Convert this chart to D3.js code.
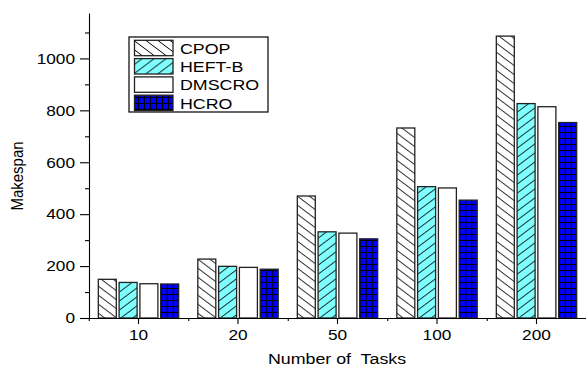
<!DOCTYPE html>
<html>
<head>
<meta charset="utf-8">
<script src="https://cdn.jsdelivr.net/npm/d3@7"></script>
<style>
  html, body { margin: 0; padding: 0; background: #fff; }
  svg { display: block; font-family: "Liberation Sans", Arial, sans-serif; }
</style>
</head>
<body>
<svg id="chart" width="586" height="367"></svg>
<script>
// Makespan per algorithm for each task count
const categories = ["10", "20", "50", "100", "200"];
const seriesNames = ["CPOP", "HEFT-B", "DMSCRO", "HCRO"];
const cpop   = [149, 227, 470, 732, 1086];
const heftB  = [137, 199, 332, 506, 826];
const dmscro = [132, 195, 327, 501, 814];
const hcro   = [131, 188, 305, 454, 753];
const yMajorTicks = [0, 200, 400, 600, 800, 1000];
const yMinorTicks = [100, 300, 500, 700, 900, 1100];

const seriesValues = [cpop, heftB, dmscro, hcro];
const fills = ["url(#hatchBack)", "url(#hatchFwd)", "#ffffff", "url(#gridBlue)"];
const SX = 1.15; // horizontal text stretch
const FONT = 15;

const svg = d3.select("#chart");
const defs = svg.append("defs");

// Diagonal hatch "\" on white
(function () {
  const w = 12, h = 9;
  const p = defs.append("pattern").attr("id", "hatchBack")
    .attr("patternUnits", "userSpaceOnUse").attr("width", w).attr("height", h);
  p.append("rect").attr("width", w).attr("height", h).attr("fill", "#fff");
  [-1, 0, 1].forEach(k => p.append("line")
    .attr("x1", 0).attr("y1", k * h).attr("x2", w).attr("y2", h + k * h)
    .attr("stroke", "#000").attr("stroke-width", 1));
})();
// Diagonal hatch "/" on cyan
(function () {
  const w = 12, h = 9;
  const p = defs.append("pattern").attr("id", "hatchFwd")
    .attr("patternUnits", "userSpaceOnUse").attr("width", w).attr("height", h);
  p.append("rect").attr("width", w).attr("height", h).attr("fill", "#80ffff");
  [-1, 0, 1].forEach(k => p.append("line")
    .attr("x1", 0).attr("y1", h + k * h).attr("x2", w).attr("y2", k * h)
    .attr("stroke", "#000").attr("stroke-width", 1));
})();
// Square grid on blue
(function () {
  const w = 6, h = 6;
  const p = defs.append("pattern").attr("id", "gridBlue")
    .attr("patternUnits", "userSpaceOnUse").attr("width", w).attr("height", h);
  p.append("rect").attr("width", w).attr("height", h).attr("fill", "#0000ff");
  p.append("path").attr("d", `M0,0.5H${w}M0.5,0V${h}`)
    .attr("stroke", "#000").attr("stroke-width", 1).attr("fill", "none");
})();

// Scales
const x = d3.scaleBand().domain(categories).range([88.75, 586.25]).padding(0);
const xInner = d3.scaleBand().domain(seriesNames).range([0, x.bandwidth()])
  .paddingInner(0.135).paddingOuter(0.46);
const y = d3.scaleLinear().domain([0, 1175]).range([318, 13]);

// Bars
const groups = svg.append("g").selectAll("g")
  .data(categories).join("g")
  .attr("transform", d => `translate(${x(d)},0)`);
groups.selectAll("rect")
  .data((c, ci) => seriesNames.map((s, si) => ({ s, si, v: seriesValues[si][ci] })))
  .join("rect")
  .attr("x", d => xInner(d.s))
  .attr("y", d => y(d.v))
  .attr("width", xInner.bandwidth())
  .attr("height", d => y(0) - y(d.v))
  .attr("fill", d => fills[d.si])
  .attr("stroke", "#222")
  .attr("stroke-width", 1.3);

function stretchText(sel) {
  sel.selectAll("text").each(function () {
    const t = d3.select(this);
    const xv = +(t.attr("x") || 0);
    t.attr("x", xv / SX).attr("transform", `scale(${SX},1)`);
  });
}

// Y axis
const yAxis = svg.append("g").attr("transform", "translate(89,0)")
  .call(d3.axisLeft(y).tickValues(yMajorTicks).tickFormat(d3.format("d"))
    .tickSizeInner(9).tickSizeOuter(0).tickPadding(5));
yAxis.append("g").call(d3.axisLeft(y).tickValues(yMinorTicks).tickSize(4).tickFormat(""))
  .select(".domain").remove();
yAxis.selectAll("text").attr("font-size", FONT).attr("font-family", "Liberation Sans, Arial").attr("fill", "#000");
stretchText(yAxis);

// X axis
const xAxis = svg.append("g").attr("transform", "translate(0,318)")
  .call(d3.axisBottom(x).tickSizeInner(6).tickSizeOuter(0).tickPadding(5));
const boundary = d3.scaleLinear().domain([0, categories.length]).range(x.range());
xAxis.append("g").call(d3.axisBottom(boundary).tickValues([0, 1, 2, 3, 4]).tickSize(3).tickFormat(""))
  .select(".domain").remove();
xAxis.selectAll("text").attr("font-size", FONT).attr("font-family", "Liberation Sans, Arial").attr("fill", "#000");
stretchText(xAxis);
svg.selectAll(".domain, .tick line").attr("stroke", "#000").attr("stroke-width", 1.1);

// Axis titles
svg.append("g").attr("transform", `translate(17,176) scale(${SX},1) rotate(-90)`)
  .append("text").attr("text-anchor", "middle").attr("dy", "0.35em")
  .attr("font-size", FONT).text("Makespan");
svg.append("g").attr("transform", `translate(337,364) scale(${SX},1)`)
  .append("text").attr("text-anchor", "middle").style("white-space", "pre")
  .attr("font-size", FONT + 0.5).text("Number of  Tasks");

// Legend
const legend = svg.append("g");
legend.append("rect").attr("x", 129).attr("y", 37).attr("width", 139).attr("height", 75)
  .attr("fill", "#fff").attr("stroke", "#000").attr("stroke-width", 1.2);
const rows = legend.selectAll("g.row").data(seriesNames).join("g").attr("class", "row")
  .attr("transform", (d, i) => `translate(0,${48 + i * 18.3})`);
rows.append("rect").attr("x", 134.5).attr("y", -7.7).attr("width", 38.5).attr("height", 15.4)
  .attr("fill", (d, i) => fills[i]).attr("stroke", "#222").attr("stroke-width", 1.3);
rows.append("g").attr("transform", `translate(180,5.6) scale(${SX},1)`)
  .append("text").attr("font-size", FONT + 0.5).text(d => d);
</script>
</body>
</html>
